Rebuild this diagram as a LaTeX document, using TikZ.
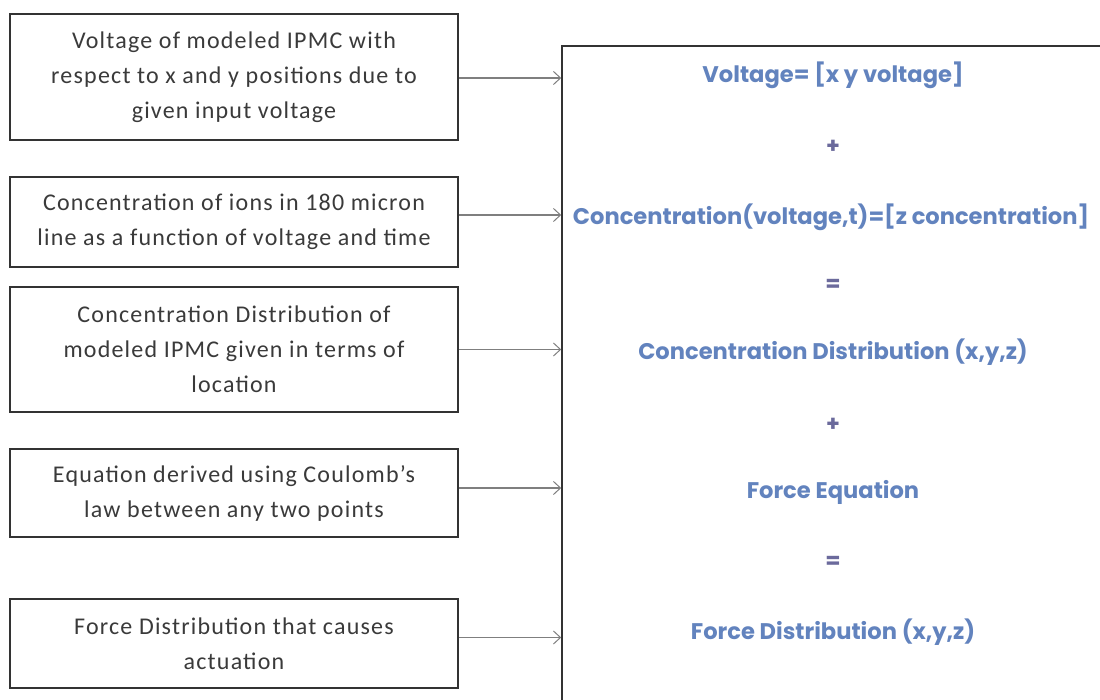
\documentclass[tikz,border=0pt]{standalone}
\usepackage{fontspec}
\setmainfont{Carlito}
\newfontfamily\lfont{Carlito}[LetterSpace=5]
\newfontfamily\rfont{Poppins}
\usetikzlibrary{arrows.meta}
\definecolor{boxline}{HTML}{333333}
\definecolor{ltext}{HTML}{3A3A3A}
\definecolor{rtext}{HTML}{6283BE}
\definecolor{optext}{HTML}{6B6A9C}
\definecolor{arrcol}{HTML}{7F7F7F}
\begin{document}
\begin{tikzpicture}[x=1pt,y=-1pt,
  lbox/.style={draw=boxline,line width=1.6pt,minimum width=448pt,align=center,
    text=ltext,font=\lfont\fontsize{24}{35}\selectfont,inner sep=0pt},
  rlabel/.style={text=rtext,font=\rfont\bfseries\fontsize{22.6}{26}\selectfont,inner sep=0pt},
  oplabel/.style={text=optext,font=\rfont\bfseries\fontsize{22}{26}\selectfont,inner sep=0pt},
  arr/.style={draw=arrcol,line width=1.1pt,-{Straight Barb[length=7pt,width=13pt,line width=1pt]}}]
\useasboundingbox (0,0) rectangle (1100,700);
\fill[white] (0,0) rectangle (1100,700);
% right box
\node[draw=boxline,line width=1.6pt,minimum width=542pt,minimum height=658pt,inner sep=0pt] (R) at (833,375) {};
% left boxes
\node[lbox,minimum height=126pt] (b1) at (234,77) {Voltage of modeled IPMC with\\respect to x and y positions due to\\given input voltage};
\node[lbox,minimum height=90pt] (b2) at (234,222) {Concentration of ions in 180 micron\\line as a function of voltage and time};
\node[lbox,minimum height=125pt] (b3) at (234,349.5) {Concentration Distribution of\\modeled IPMC given in terms of\\location};
\node[lbox,minimum height=88pt] (b4) at (234,493) {Equation derived using Coulomb’s\\law between any two points};
\node[lbox,minimum height=89pt] (b5) at (234,643.5) {Force Distribution that causes\\actuation};
% right texts
\node[rlabel] (t1) at (833,75) {Voltage= [x y voltage]};
\node[oplabel] (o1) at (833,147) {+};
\node[rlabel] (t2) at (831,217) {Concentration(voltage,t)=[z concentration]};
\node[oplabel] (o2) at (833,285) {=};
\node[rlabel] (t3) at (833,352) {Concentration Distribution (x,y,z)};
\node[oplabel] (o3) at (833,425) {+};
\node[rlabel] (t4) at (833,492) {Force Equation};
\node[oplabel] (o4) at (833,562) {=};
\node[rlabel] (t5) at (833,632) {Force Distribution (x,y,z)};
% arrows
\draw[arr] ([yshift=-1pt]b1.east) -- ([yshift=-1pt]b1.east -| R.west);
\draw[arr] ([yshift=7pt]b2.east) -- ([yshift=7pt]b2.east -| R.west);
\draw[arr] (b3.east) -- (b3.east -| R.west);
\draw[arr] ([yshift=5pt]b4.east) -- ([yshift=5pt]b4.east -| R.west);
\draw[arr] ([yshift=6pt]b5.east) -- ([yshift=6pt]b5.east -| R.west);
\end{tikzpicture}
\end{document}
